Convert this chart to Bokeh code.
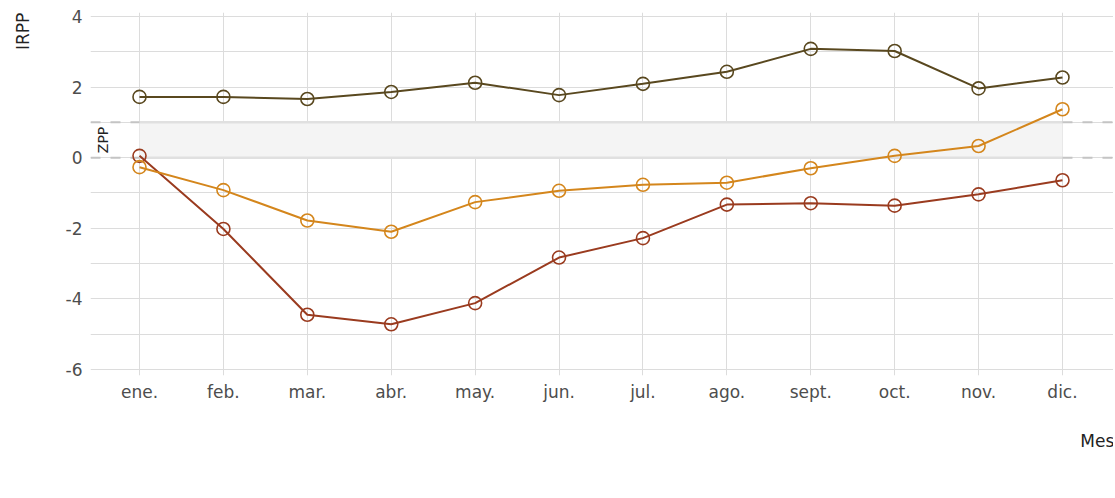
from bokeh.plotting import figure
from bokeh.models import Range1d, FixedTicker, Label, Legend, LegendItem, LinearAxis
from bokeh.embed import file_html
from bokeh.resources import INLINE
import numpy as np

months = ["ene.", "feb.", "mar.", "abr.", "may.", "jun.", "jul.", "ago.", "sept.", "oct.", "nov.", "dic."]
y2020 = [0.05, -2.02, -4.45, -4.72, -4.12, -2.83, -2.28, -1.33, -1.29, -1.36, -1.04, -0.64]
y2021 = [-0.27, -0.92, -1.78, -2.10, -1.26, -0.94, -0.77, -0.71, -0.30, 0.05, 0.33, 1.37]
y2022 = [1.72, 1.72, 1.66, 1.86, 2.12, 1.77, 2.09, 2.43, 3.08, 3.02, 1.96, 2.27]
years = ["2020", "2021", "2022"]
colors = ["#9A3B1F", "#D4861C", "#59481F"]
zpp_low, zpp_high = 0, 1
y_ticks = [-6, -4, -2, 0, 2, 4]

x = list(range(1, len(months) + 1))
FONT = "DejaVu Sans"
X0, X1 = 0.416, 12.608
NB = "\u00a0"

p = figure(frame_width=1023, frame_height=363, output_backend="svg", toolbar_location=None,
           x_range=Range1d(X0, X1), y_range=Range1d(-6.17, 4.11),
           min_border_left=90, min_border_right=0, min_border_top=12, min_border_bottom=0,
           x_axis_label="Mes" + NB * 6, y_axis_label="IRPP" + NB * 7)
p.outline_line_color = None
p.background_fill_color = "white"

# axes
p.xaxis.ticker = FixedTicker(ticks=x)
p.xaxis.major_label_overrides = {i: m for i, m in zip(x, months)}
p.yaxis.ticker = FixedTicker(ticks=y_ticks, minor_ticks=[-5, -3, -1, 1, 3])
p.yaxis.major_label_overrides = {t: str(t) for t in y_ticks}
for ax in (p.xaxis[0], p.yaxis[0]):
    ax.axis_line_color = None
    ax.major_tick_line_color = None
    ax.minor_tick_line_color = None
    ax.major_tick_out = 0
    ax.major_tick_in = 0
    ax.minor_tick_out = 0
    ax.major_label_text_font = FONT
    ax.major_label_text_font_size = "17px"
    ax.major_label_text_color = "#4d4d4d"
    ax.axis_label_text_font = FONT
    ax.axis_label_text_font_size = "17px"
    ax.axis_label_text_font_style = "normal"
    ax.axis_label_text_color = "#222222"
    if "axis_label_align" in LinearAxis.properties():
        try:
            ax.axis_label_align = "end"
        except Exception:
            ax.axis_label_align = "right"
p.xaxis.major_label_standoff = 6
p.yaxis.major_label_standoff = 8
p.xaxis.axis_label_standoff = 26
p.yaxis.axis_label_standoff = 30

p.xgrid.grid_line_color = "#dcdcdc"
p.ygrid.grid_line_color = "#dcdcdc"
p.ygrid.minor_grid_line_color = "#dcdcdc"

# ZPP band
p.quad(left=[x[0]], right=[x[-1]], bottom=[zpp_low], top=[zpp_high],
       fill_color="#f4f4f4", line_color=None)
for yy in (zpp_low, zpp_high):
    p.line([x[0], x[-1]], [yy, yy], line_color="#e0e0e0", line_width=2.5)
    p.line([X0, x[0]], [yy, yy], line_color="#c4c4c4", line_width=2, line_dash="10 10")
    p.line([x[-1], X1], [yy, yy], line_color="#c4c4c4", line_width=2, line_dash="10 10")
p.add_layout(Label(x=0.57, y=(zpp_low + zpp_high) / 2, text="ZPP", angle=np.pi / 2,
                   text_align="center", text_baseline="middle",
                   text_font=FONT, text_font_size="14px", text_color="#222222"))

items = []
for ys, name, c in zip([y2020, y2021, y2022], years, colors):
    p.line(x, ys, line_color=c, line_width=2)
    r = p.scatter(x, ys, marker="circle", size=13, fill_color=None, line_color=c, line_width=1.6)
    items.append(LegendItem(label=name, renderers=[r]))

legend = Legend(items=items, orientation="horizontal", location="center",
                label_text_font=FONT, label_text_font_size="18px", label_text_color="#222222",
                glyph_width=20, label_standoff=25, spacing=25,
                border_line_color=None, background_fill_alpha=0, margin=12, padding=0)
p.add_layout(legend, "below")

open("out.html", "w").write(file_html(p, INLINE))
